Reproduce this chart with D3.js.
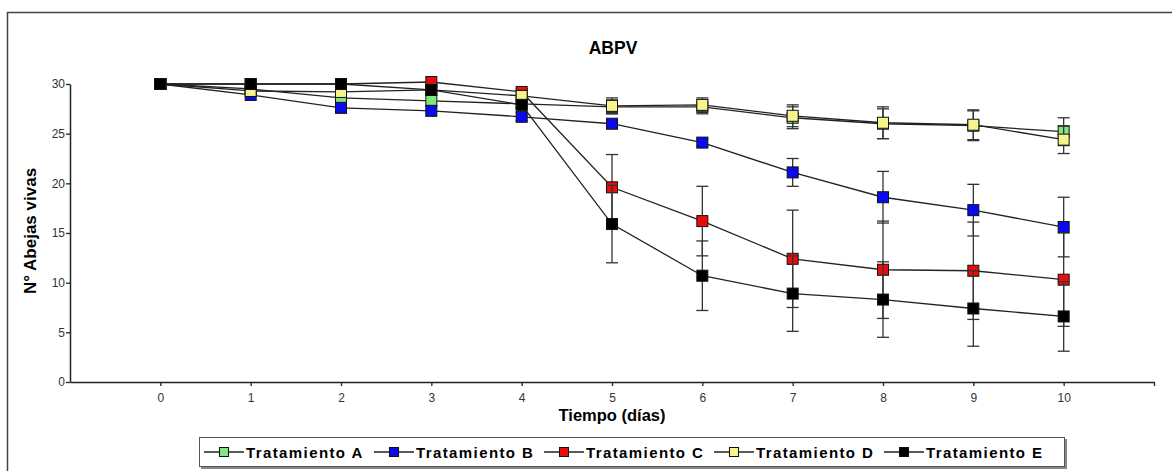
<!DOCTYPE html>
<html>
<head>
<meta charset="utf-8">
<script src="https://cdn.jsdelivr.net/npm/d3@7"></script>
<style>
  body { margin: 0; background: #fff; }
  svg { display: block; font-family: Arial, "Liberation Sans", sans-serif; }
</style>
</head>
<body>
<div id="chart"></div>
<script>
// days on the x axis
const days = [0, 1, 2, 3, 4, 5, 6, 7, 8, 9, 10];
const yTicks = [0, 5, 10, 15, 20, 25, 30];

// mean live bees per treatment
const tratA = [30, 29.5, 28.6, 28.3, 28.0, 27.7, 27.7, 26.6, 26.0, 25.8, 25.2];
const tratB = [30, 28.9, 27.6, 27.3, 26.7, 26.0, 24.1, 21.1, 18.6, 17.3, 15.6];
const tratC = [30, 30, 30, 30.2, 29.2, 19.6, 16.2, 12.4, 11.3, 11.2, 10.3];
const tratD = [30, 29.3, 29.2, 29.4, 28.8, 27.8, 27.9, 26.8, 26.1, 25.9, 24.4];
const tratE = [30, 30, 30, 29.4, 27.9, 15.9, 10.7, 8.9, 8.3, 7.4, 6.6];

// error bars (+/-)
const errA = [0, 0, 0, 0, 0.4, 0.7, 0.7, 1.1, 1.5, 1.5, 1.4];
const errB = [0, 0, 0, 0, 0.4, 0.4, 0.4, 1.4, 2.6, 2.6, 3.0];
const errC = [0, 0, 0, 0, 0.3, 3.3, 3.5, 4.9, 4.9, 4.9, 4.7];
const errD = [0, 0, 0, 0, 0.5, 0.8, 0.7, 1.1, 1.6, 1.5, 1.4];
const errE = [0, 0, 0, 0, 0.3, 3.9, 3.5, 3.8, 3.8, 3.8, 3.5];

const seriesNames = ["Tratamiento A", "Tratamiento B", "Tratamiento C", "Tratamiento D", "Tratamiento E"];
const seriesColors = ["#7ee87e", "#0a0aee", "#e80c0c", "#f8f48c", "#000000"];

const series = [
  { name: seriesNames[0], color: seriesColors[0], values: tratA, err: errA },
  { name: seriesNames[1], color: seriesColors[1], values: tratB, err: errB },
  { name: seriesNames[2], color: seriesColors[2], values: tratC, err: errC },
  { name: seriesNames[3], color: seriesColors[3], values: tratD, err: errD },
  { name: seriesNames[4], color: seriesColors[4], values: tratE, err: errE }
];

const W = 1172, H = 471;
const svg = d3.select("#chart").append("svg")
  .attr("width", W)
  .attr("height", H);

// outer frame (runs off the right / bottom)
svg.append("rect")
  .attr("x", 7.5).attr("y", 12.5)
  .attr("width", W + 20).attr("height", H + 20)
  .attr("fill", "none")
  .attr("stroke", "#444")
  .attr("stroke-width", 1.5);

const x = d3.scaleLinear().domain([-1, 11]).range([70, 1154]);
const y = d3.scaleLinear().domain([0, 30]).range([382, 84]);

// axes
const xAxis = svg.append("g")
  .attr("transform", `translate(0,${y(0)})`)
  .call(d3.axisBottom(x).tickValues(days.concat([11])).tickSize(4).tickSizeOuter(0)
    .tickFormat(d => d === 11 ? "" : d));

const yAxis = svg.append("g")
  .attr("transform", `translate(${x(-1)},0)`)
  .call(d3.axisLeft(y).tickValues(yTicks).tickSize(4).tickSizeOuter(0));

[xAxis, yAxis].forEach(g => {
  g.select(".domain").attr("stroke", "#222").attr("stroke-width", 1.5);
  g.selectAll(".tick line").attr("stroke", "#222").attr("stroke-width", 1.3);
  g.selectAll(".tick text")
    .attr("fill", "#333")
    .style("font-size", "12px")
    .style("font-family", "Arial, 'Liberation Sans', sans-serif");
});
xAxis.selectAll(".tick text").attr("dy", "1.1em");
yAxis.selectAll(".tick text").attr("x", -5);

// titles
svg.append("text")
  .attr("x", 613).attr("y", 54)
  .attr("text-anchor", "middle")
  .attr("font-weight", "bold")
  .attr("font-size", "17.5px")
  .text("ABPV");

svg.append("text")
  .attr("x", 612).attr("y", 421)
  .attr("text-anchor", "middle")
  .attr("font-weight", "bold")
  .attr("font-size", "16.5px")
  .text("Tiempo (días)");

svg.append("text")
  .attr("transform", `translate(36,${(y(0) + y(30)) / 2 - 2}) rotate(-90)`)
  .attr("text-anchor", "middle")
  .attr("font-weight", "bold")
  .attr("font-size", "17px")
  .text("N° Abejas vivas");

const line = d3.line()
  .x((d, i) => x(days[i]))
  .y(d => y(d));

const capW = 6;
const boxS = 11;

series.forEach(s => {
  const g = svg.append("g");

  // error bars
  s.values.forEach((v, i) => {
    const e = s.err[i];
    if (!e) return;
    const cx = x(days[i]);
    g.append("line")
      .attr("x1", cx).attr("x2", cx)
      .attr("y1", y(v - e)).attr("y2", y(v + e))
      .attr("stroke", "#333").attr("stroke-width", 1.3);
    [v - e, v + e].forEach(t => {
      g.append("line")
        .attr("x1", cx - capW).attr("x2", cx + capW)
        .attr("y1", y(t)).attr("y2", y(t))
        .attr("stroke", "#333").attr("stroke-width", 1.3);
    });
  });

  g.append("path")
    .datum(s.values)
    .attr("fill", "none")
    .attr("stroke", "#222")
    .attr("stroke-width", 1.3)
    .attr("d", line);

  g.selectAll("rect.pt")
    .data(s.values)
    .join("rect")
    .attr("class", "pt")
    .attr("x", (d, i) => x(days[i]) - boxS / 2)
    .attr("y", d => y(d) - boxS / 2)
    .attr("width", boxS)
    .attr("height", boxS)
    .attr("fill", s.color)
    .attr("stroke", "#111")
    .attr("stroke-width", 1);
});

// legend
const legend = svg.append("g");
legend.append("rect")
  .attr("x", 201).attr("y", 439)
  .attr("width", 866).attr("height", 30)
  .attr("fill", "#888");
legend.append("rect")
  .attr("x", 199.5).attr("y", 437.5)
  .attr("width", 865).attr("height", 29)
  .attr("fill", "#fff")
  .attr("stroke", "#555")
  .attr("stroke-width", 1);

const legendX = [204, 374, 544, 714, 884];
const items = legend.selectAll("g.item")
  .data(series)
  .join("g")
  .attr("class", "item")
  .attr("transform", (d, i) => `translate(${legendX[i]},452)`);

items.append("line")
  .attr("x1", 0).attr("x2", 40)
  .attr("stroke", "#222").attr("stroke-width", 1.3);
items.append("rect")
  .attr("x", 20 - 4.5).attr("y", -4.5)
  .attr("width", 9).attr("height", 9)
  .attr("fill", d => d.color)
  .attr("stroke", "#111");
items.append("text")
  .attr("x", 42).attr("y", 5.5)
  .attr("font-size", "15px")
  .attr("font-weight", "bold")
  .attr("letter-spacing", "1.4px")
  .text(d => d.name);
</script>
</body>
</html>
